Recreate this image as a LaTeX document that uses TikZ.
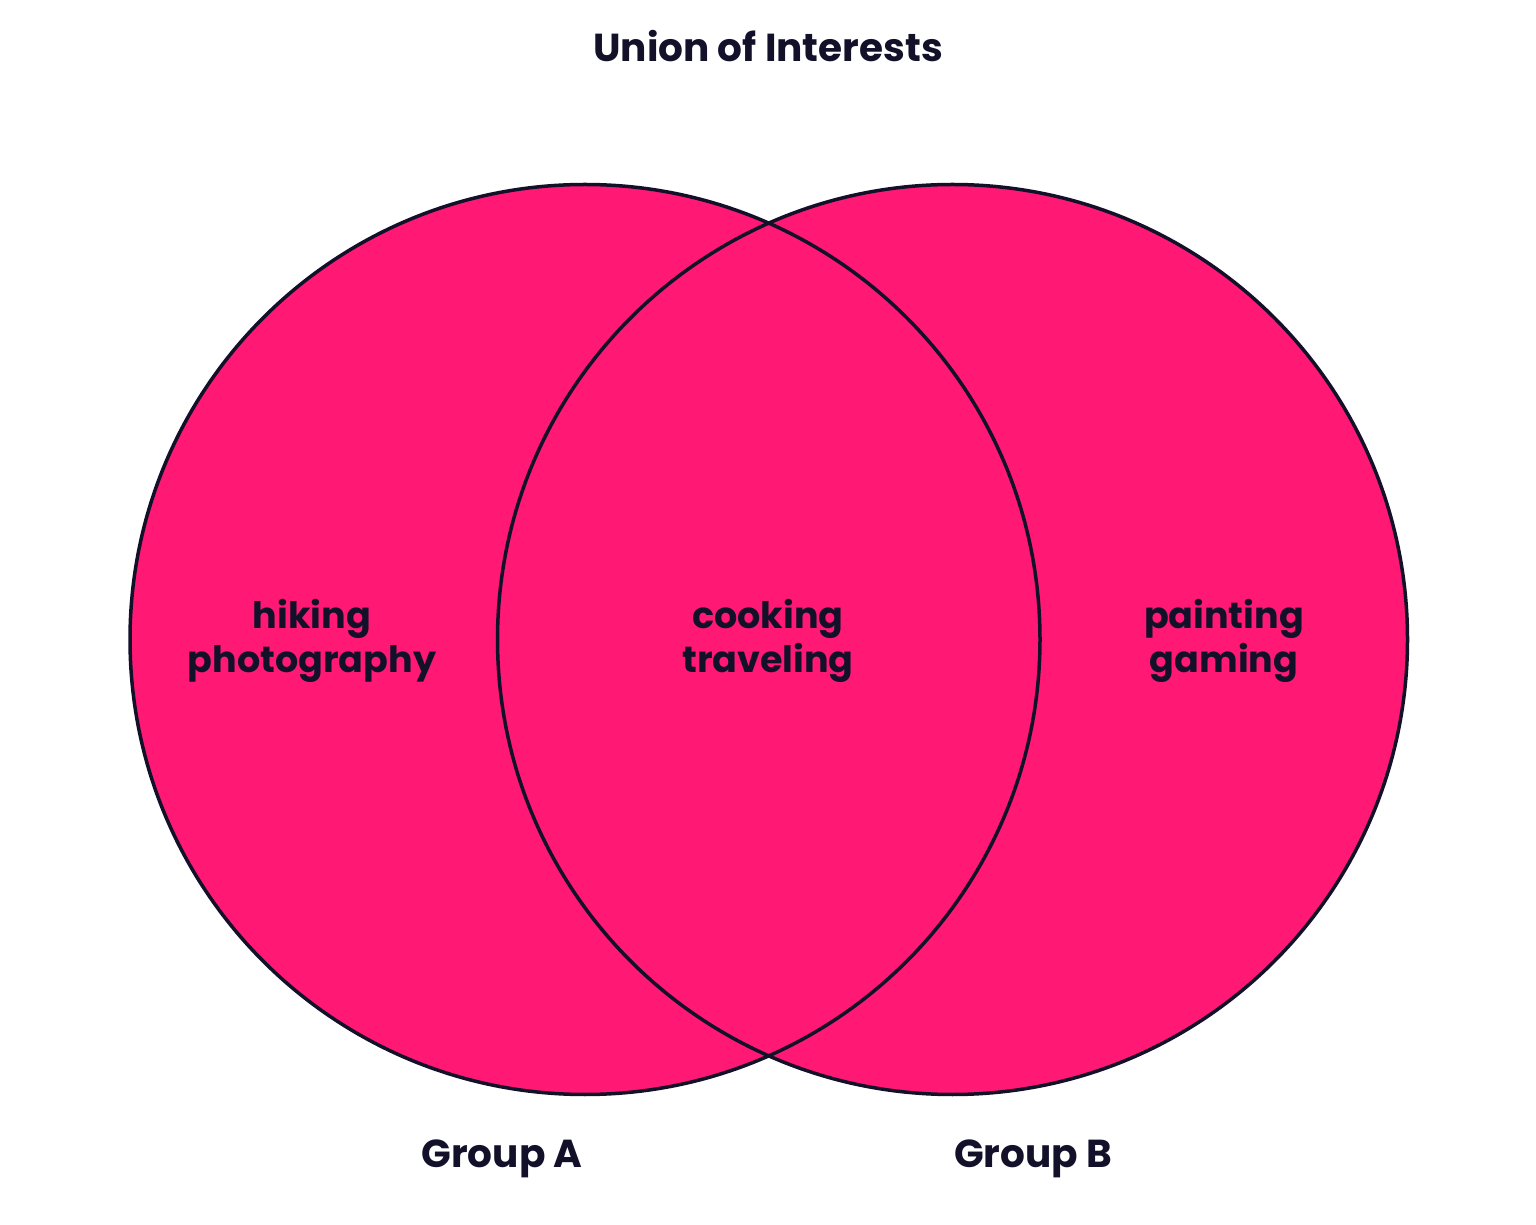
\documentclass[tikz,border=0pt]{standalone}
\usepackage{fontspec}
\setmainfont{Poppins}
\definecolor{vpink}{HTML}{FF1974}
\definecolor{vink}{HTML}{13112A}
\begin{document}
\begin{tikzpicture}[x=1pt,y=1pt,
  setcircle/.style={circle,draw=vink,line width=3.5pt,minimum size=910pt,inner sep=0pt},
  lbl/.style={text=vink,font=\fontsize{36.5}{44}\selectfont\bfseries,align=center},
  ttl/.style={text=vink,font=\fontsize{39}{44}\selectfont\bfseries}]
\useasboundingbox (0,0) rectangle (1536,1224);
\fill[vpink] (585,584.5) circle (455);
\fill[vpink] (952.5,584.5) circle (455);
\node[setcircle] (A) at (585,584.5) {};
\node[setcircle] (B) at (952.5,584.5) {};
\node[ttl] (title) at (768,1178) {Union of Interests};
\node[lbl] (onlyA) at (312,583) {hiking\\photography};
\node[lbl] (both) at (768,583) {cooking\\traveling};
\node[lbl] (onlyB) at (1224,583) {painting\\gaming};
\node[ttl] (labA) at (502,65) {Group A};
\node[ttl] (labB) at (1033,65) {Group B};
\end{tikzpicture}
\end{document}
